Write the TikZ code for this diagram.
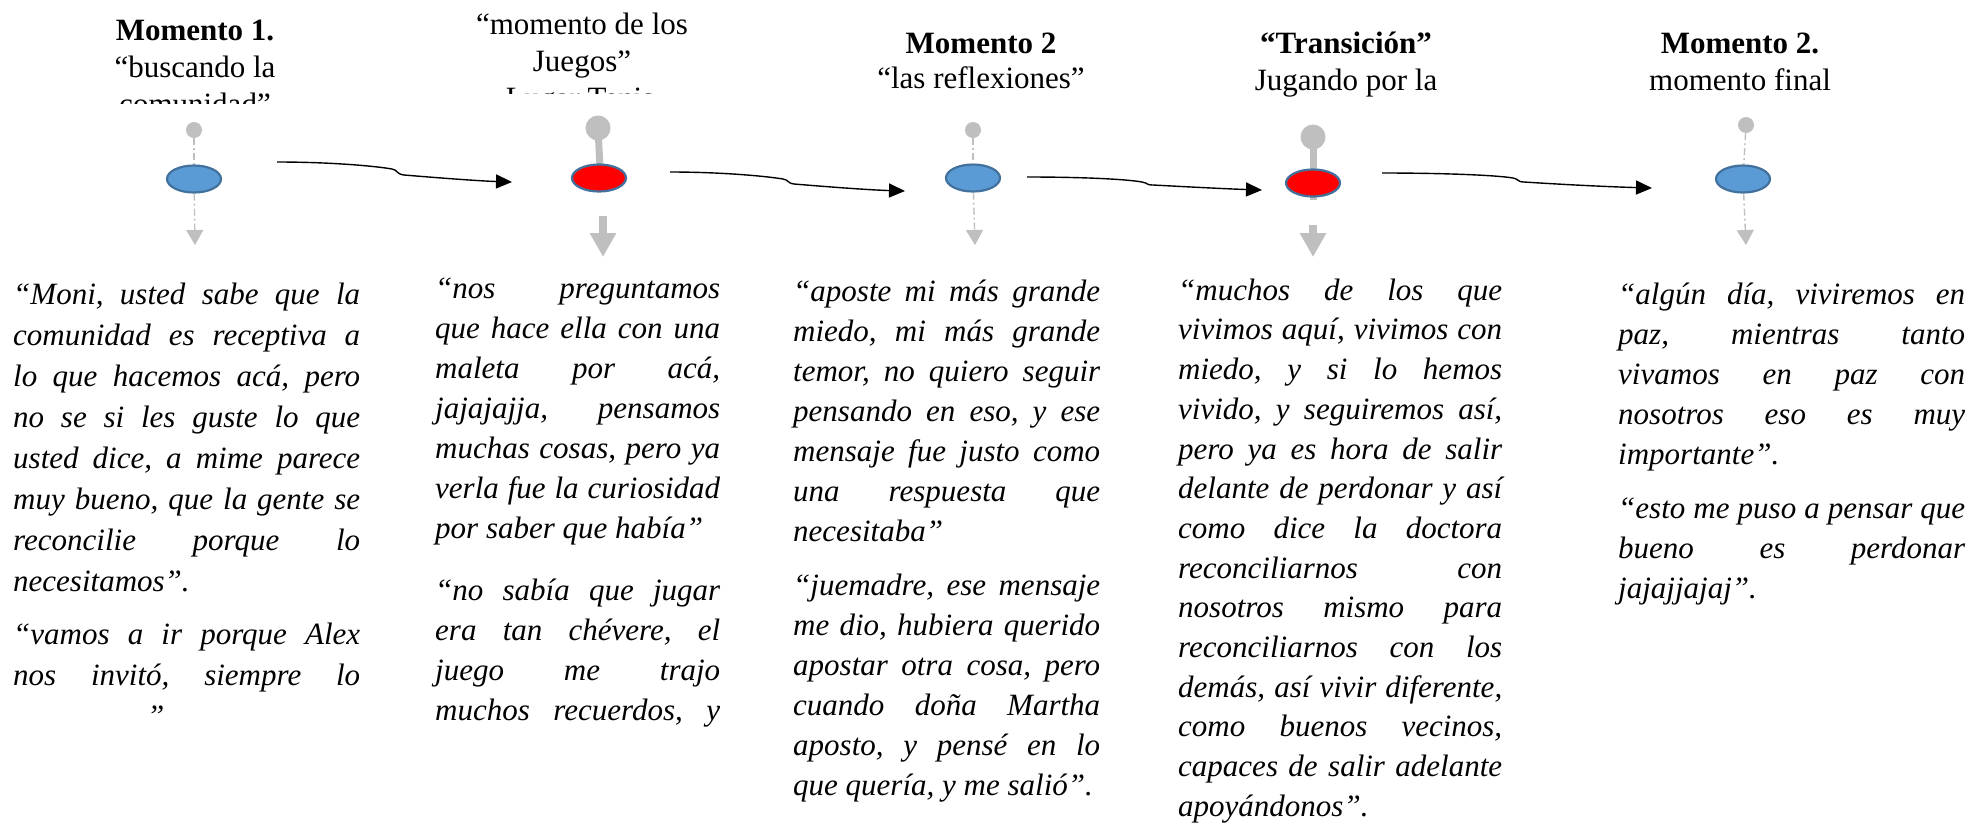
\documentclass[tikz,border=0pt]{standalone}
\usepackage{fontspec}
\setmainfont{Liberation Serif}
\usetikzlibrary{arrows.meta,shapes.geometric}
\definecolor{bluefill}{HTML}{5B9BD5}
\definecolor{blueline}{HTML}{41719C}
\definecolor{pingray}{HTML}{BFBFBF}
\newlength\colw
\newcommand\jfull[1]{\noindent\hbox to\colw{\spaceskip=0.25em plus 1em minus 0.07em\xspaceskip=\spaceskip\rule{0pt}{25pt}#1}\par}
\newcommand\jlast[1]{\noindent\hbox to\colw{\spaceskip=0.25em plus 1em minus 0.07em\xspaceskip=\spaceskip\rule{0pt}{25pt}#1\hfil}\par}
\newcommand\pgap[1]{\vspace{#1}}
\begin{document}
\begin{tikzpicture}[x=1pt,y=-1pt,
  hdr/.style={anchor=base, inner sep=0pt, font=\fontsize{31}{37}\selectfont},
  hdrb/.style={anchor=base, inner sep=0pt, font=\fontsize{31}{37}\selectfont\bfseries},
  body/.style={anchor=north west, inner sep=0pt, font=\fontsize{31}{#1}\selectfont\itshape\frenchspacing},
  evt/.style={ellipse, draw=blueline, line width=2.2pt, minimum width=54pt, minimum height=27pt, inner sep=0pt},
  blueevt/.style={evt, fill=bluefill},
  redevt/.style={evt, fill=red},
  smalldot/.style={circle, fill=pingray, minimum size=16pt, inner sep=0pt},
  bigdot/.style={circle, fill=pingray, minimum size=25pt, inner sep=0pt},
  guide/.style={draw=pingray, line width=1.4pt, dash pattern=on 7pt off 3pt on 2pt off 3pt},
  guidetip/.style={guide, -{Triangle[length=15pt,width=17pt]}},
  stem/.style={draw=pingray, line width=7pt},
  fatarrow/.style={draw=pingray, line width=8pt, -{Triangle[length=24pt,width=25pt]}},
  conn/.style={draw=black, line width=1.4pt, -{Triangle[length=16pt,width=14pt]}}
]
\useasboundingbox (0,0) rectangle (1972,825);

% ---------- headers ----------
\begin{scope}
\clip (0,0) rectangle (400,103);
\node[hdrb] (h1a) at (195,40) {Momento 1.};
\node[hdr] (h1b) at (195,77) {“buscando la};
\node[hdr] (h1c) at (195,114) {comunidad”};
\end{scope}
\begin{scope}
\clip (400,0) rectangle (780,93);
\node[hdr] (h2a) at (582,34) {“momento de los};
\node[hdr] (h2b) at (582,71) {Juegos”};
\node[hdr] (h2c) at (580,108) {Lugar Tenis};
\end{scope}
\node[hdrb] (h3a) at (981,53) {Momento 2};
\node[hdr] (h3b) at (981,88) {“las reflexiones”};
\node[hdrb] (h4a) at (1346,53) {“Transición”};
\node[hdr] (h4b) at (1346,90) {Jugando por la};
\node[hdrb] (h5a) at (1740,53) {Momento 2.};
\node[hdr] (h5b) at (1740,90) {momento final};

% ---------- event 1 (blue) ----------
\node[smalldot] (d1) at (194,130) {};
\node[blueevt] (e1) at (194,179) {};
\coordinate (t1) at (195,245);
\draw[guide] (d1) -- (e1);
\draw[guidetip] (e1) -- (t1);

% ---------- event 2 (red) ----------
\node[bigdot] (d2) at (598,128) {};
\coordinate (s2) at (600,168);
\draw[stem] (d2.center) -- (s2);
\node[redevt] (e2) at (599,178) {};
\coordinate (f2) at (603,216);
\coordinate (t2) at (603,257);
\draw[fatarrow] (f2) -- (t2);

% ---------- event 3 (blue) ----------
\node[smalldot] (d3) at (973,130) {};
\node[blueevt] (e3) at (973,178) {};
\coordinate (t3) at (975,245);
\draw[guide] (d3) -- (e3);
\draw[guidetip] (e3) -- (t3);

% ---------- event 4 (red) ----------
\node[bigdot] (d4) at (1313,137) {};
\coordinate (s4) at (1313,200);
\draw[stem] (d4.center) -- (s4);
\node[redevt] (e4) at (1313,183) {};
\coordinate (f4) at (1313,225);
\coordinate (t4) at (1313,257);
\draw[fatarrow] (f4) -- (t4);

% ---------- event 5 (blue) ----------
\node[smalldot] (d5) at (1746,125) {};
\node[blueevt] (e5) at (1743,179) {};
\coordinate (t5) at (1746,245);
\draw[guide] (d5) -- (e5);
\draw[guidetip] (e5) -- (t5);

% ---------- connectors ----------
\coordinate (c1s) at (277,162); \coordinate (c1e) at (512,182);
\draw[conn] (c1s) .. controls (330,162) and (375,166) .. (392,169)
  .. controls (398,170) and (396,174) .. (404,175)
  .. controls (440,178) and (480,181) .. (c1e);
\coordinate (c2s) at (670,172); \coordinate (c2e) at (905,191);
\draw[conn] (c2s) .. controls (720,172) and (765,176) .. (783,179)
  .. controls (789,180) and (787,183) .. (794,184)
  .. controls (830,187) and (870,190) .. (c2e);
\coordinate (c3s) at (1027,177); \coordinate (c3e) at (1262,190);
\draw[conn] (c3s) .. controls (1080,177) and (1125,179) .. (1142,182)
  .. controls (1148,183) and (1146,185) .. (1153,185)
  .. controls (1190,187) and (1230,189) .. (c3e);
\coordinate (c4s) at (1382,173); \coordinate (c4e) at (1652,188);
\draw[conn] (c4s) .. controls (1440,173) and (1495,175) .. (1513,178)
  .. controls (1519,179) and (1517,182) .. (1524,182)
  .. controls (1570,185) and (1615,187) .. (c4e);

% ---------- quotes ----------
\node[body=41, text width=347pt] (q1) at (13,279) {%
\setlength\colw{347pt}%
\jfull{“Moni, usted sabe que la}
\jfull{comunidad es receptiva a}
\jfull{lo que hacemos acá, pero}
\jfull{no se si les guste lo que}
\jfull{usted dice, a mime parece}
\jfull{muy bueno, que la gente se}
\jfull{reconcilie porque lo}
\jlast{necesitamos”.}
\pgap{12pt}
\jfull{“vamos a ir porque Alex}
\jfull{nos invitó, siempre lo}
\jlast{\hspace*{134pt}”}};

\node[body=40, text width=285pt] (q2) at (435,273) {%
\setlength\colw{285pt}%
\jfull{“nos preguntamos}
\jfull{que hace ella con una}
\jfull{maleta por acá,}
\jfull{jajajajja, pensamos}
\jfull{muchas cosas, pero ya}
\jfull{verla fue la curiosidad}
\jlast{por saber que había”}
\pgap{22pt}
\jfull{“no sabía que jugar}
\jfull{era tan chévere, el}
\jfull{juego me trajo}
\jfull{muchos recuerdos, y}};

\node[body=40, text width=307pt] (q3) at (793,276) {%
\setlength\colw{307pt}%
\jfull{“aposte mi más grande}
\jfull{miedo, mi más grande}
\jfull{temor, no quiero seguir}
\jfull{pensando en eso, y ese}
\jfull{mensaje fue justo como}
\jfull{una respuesta que}
\jlast{necesitaba”}
\pgap{14pt}
\jfull{“juemadre, ese mensaje}
\jfull{me dio, hubiera querido}
\jfull{apostar otra cosa, pero}
\jfull{cuando doña Martha}
\jfull{aposto, y pensé en lo}
\jlast{que quería, y me salió”.}};

\node[body=39.7, text width=324pt] (q4) at (1178,275) {%
\setlength\colw{324pt}%
\jfull{“muchos de los que}
\jfull{vivimos aquí, vivimos con}
\jfull{miedo, y si lo hemos}
\jfull{vivido, y seguiremos así,}
\jfull{pero ya es hora de salir}
\jfull{delante de perdonar y así}
\jfull{como dice la doctora}
\jfull{reconciliarnos con}
\jfull{nosotros mismo para}
\jfull{reconciliarnos con los}
\jfull{demás, así vivir diferente,}
\jfull{como buenos vecinos,}
\jfull{capaces de salir adelante}
\jlast{apoyándonos”.}};

\node[body=40, text width=347pt] (q5) at (1618,279) {%
\setlength\colw{347pt}%
\jfull{“algún día, viviremos en}
\jfull{paz, mientras tanto}
\jfull{vivamos en paz con}
\jfull{nosotros eso es muy}
\jlast{importante”.}
\pgap{14pt}
\jfull{“esto me puso a pensar que}
\jfull{bueno es perdonar}
\jlast{jajajjajaj”.}};
\end{tikzpicture}
\end{document}
